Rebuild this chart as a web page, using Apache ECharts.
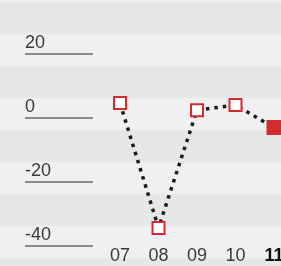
<!DOCTYPE html>
<html lang="en">
<head>
<meta charset="UTF-8">
<title>chart</title>
<script src="https://cdn.jsdelivr.net/npm/echarts@6/dist/echarts.min.js"></script>
<style>
  html, body { margin: 0; padding: 0; background: #f0f0f0; }
  #main { width: 281px; height: 266px; }
</style>
</head>
<body>
<div id="main"></div>
<script>
var months = ['07', '08', '09', '10', '11'];
var values = [-1.6, -40.6, -3.8, -2.2, -9.2];
var yTicks = [20, 0, -20, -40];

var red = '#d52b2e';
var font = '"Helvetica Neue", "Liberation Sans", Arial, sans-serif';

var chart = echarts.init(document.getElementById('main'));

// last month is highlighted: bold label, filled marker
var xData = months.map(function (m, i) {
  if (i === months.length - 1) return { value: m, textStyle: { fontWeight: 'bold', color: '#111' } };
  return m;
});
var seriesData = values.map(function (v, i) {
  if (i === values.length - 1) {
    return { value: v, symbolSize: 13, itemStyle: { color: red, borderColor: red } };
  }
  return v;
});

chart.setOption({
  animation: false,
  backgroundColor: '#f0f0f0',
  grid: [
    { left: 0, right: 0, top: -30, height: 320, outerBoundsMode: 'none' },
    { left: 100.75, width: 192.5, top: -30, height: 320, outerBoundsMode: 'none' }
  ],
  xAxis: [
    { gridIndex: 0, type: 'value', show: false, min: 0, max: 1 },
    {
      gridIndex: 1,
      type: 'category',
      data: xData,
      axisLine: { show: false },
      axisTick: { show: false },
      axisLabel: { inside: true, margin: 25, fontSize: 18, color: '#3a3a3a', fontFamily: font }
    }
  ],
  yAxis: [
    {
      gridIndex: 0,
      type: 'value',
      min: -60,
      max: 40,
      interval: 10,
      axisLine: { show: false },
      axisTick: { show: false },
      splitLine: { show: false },
      splitArea: { show: true, areaStyle: { color: ['#e6e7e9', '#f0f0f0'] } },
      axisLabel: {
        inside: true,
        margin: 25,
        align: 'left',
        verticalAlign: 'top',
        formatter: function (v) {
          return yTicks.indexOf(v) >= 0 ? '{t|' + v + '}\n{u| }' : '';
        },
        rich: {
          t: { fontSize: 18, lineHeight: 19, width: 68, color: '#3a3a3a', fontFamily: font },
          u: { fontSize: 2, lineHeight: 2, height: 2, width: 68, backgroundColor: '#8a8a8a' }
        }
      }
    },
    { gridIndex: 1, type: 'value', min: -60, max: 40, show: false }
  ],
  series: [{
    type: 'line',
    xAxisIndex: 1,
    yAxisIndex: 1,
    data: seriesData,
    symbol: 'rect',
    symbolSize: 12,
    lineStyle: { color: '#1a1a1a', width: 3.5, type: [3.5, 5] },
    itemStyle: { color: '#ffffff', borderColor: red, borderWidth: 2 }
  }]
});
</script>
</body>
</html>
